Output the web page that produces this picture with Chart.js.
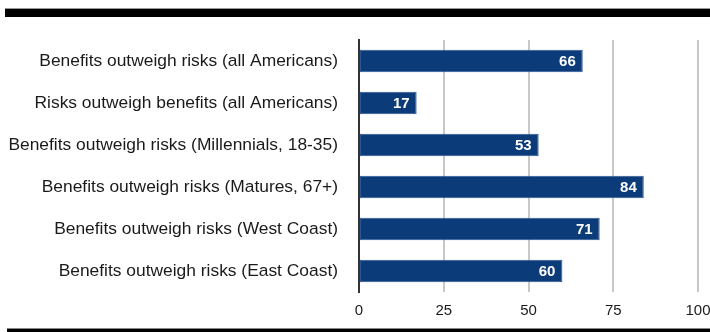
<!DOCTYPE html>
<html>
<head>
<meta charset="utf-8">
<script src="https://cdn.jsdelivr.net/npm/chart.js@4"></script>
<style>
  html, body { margin: 0; padding: 0; background: #fff; }
  #wrap { position: relative; width: 710px; height: 332px; }
  .faixa { position: absolute; background: #000; }
  .topo { left: 5px; top: 8px; width: 705px; height: 8px; border-top: 1px solid #999; }
  .base { left: 7px; top: 328px; width: 703px; height: 4px; border-top: 1px solid #888; }
</style>
</head>
<body>
<div id="wrap">
  <canvas id="grafico" width="710" height="332"></canvas>
  <div class="faixa topo"></div>
  <div class="faixa base"></div>
</div>
<script>
const categorias = [
  'Benefits outweigh risks (all Americans)',
  'Risks outweigh benefits (all Americans)',
  'Benefits outweigh risks (Millennials, 18-35)',
  'Benefits outweigh risks (Matures, 67+)',
  'Benefits outweigh risks (West Coast)',
  'Benefits outweigh risks (East Coast)'
];
const valores = [66, 17, 53, 84, 71, 60];
const ticksX = [0, 25, 50, 75, 100];

// rótulos brancos dentro da ponta de cada barra
const rotulosValor = {
  id: 'rotulosValor',
  afterDatasetsDraw(chart) {
    const ctx = chart.ctx;
    const meta = chart.getDatasetMeta(0);
    ctx.save();
    ctx.fillStyle = '#ffffff';
    ctx.font = 'bold 15px "Liberation Sans", Arial, sans-serif';
    ctx.textAlign = 'right';
    ctx.textBaseline = 'middle';
    meta.data.forEach((barra, i) => {
      ctx.fillText(String(valores[i]), barra.x - 7, barra.y + 1);
    });
    ctx.restore();
  }
};

new Chart(document.getElementById('grafico').getContext('2d'), {
  type: 'bar',
  data: {
    labels: categorias,
    datasets: [{
      data: valores,
      backgroundColor: '#0b3b78',
      borderColor: '#2b5791',
      borderWidth: 1,
      borderSkipped: false,
      barPercentage: 0.53,
      categoryPercentage: 1
    }]
  },
  options: {
    indexAxis: 'y',
    responsive: false,
    animation: false,
    layout: { padding: { top: 40, right: 0, left: 0, bottom: 0 } },
    plugins: {
      legend: { display: false },
      tooltip: { enabled: false }
    },
    scales: {
      x: {
        min: 0,
        max: 100,
        afterBuildTicks(axis) { axis.ticks = ticksX.map(v => ({ value: v })); },
        afterFit(axis) {
          axis.height = 40;
          axis.paddingLeft = 0;
          axis.paddingRight = 12;
        },
        grid: { color: '#c8c8c8', lineWidth: 2, drawTicks: false },
        border: { display: false },
        ticks: {
          padding: 10,
          color: '#1a1a1a',
          font: { family: '"Liberation Sans", Arial, sans-serif', size: 15 }
        }
      },
      y: {
        afterFit(axis) { axis.width = 359; },
        grid: { display: false, drawTicks: false },
        border: { display: true, color: '#333', width: 2 },
        ticks: {
          padding: 21,
          color: '#1a1a1a',
          font: { family: '"Liberation Sans", Arial, sans-serif', size: 17.4 }
        }
      }
    }
  },
  plugins: [rotulosValor]
});
</script>
</body>
</html>
